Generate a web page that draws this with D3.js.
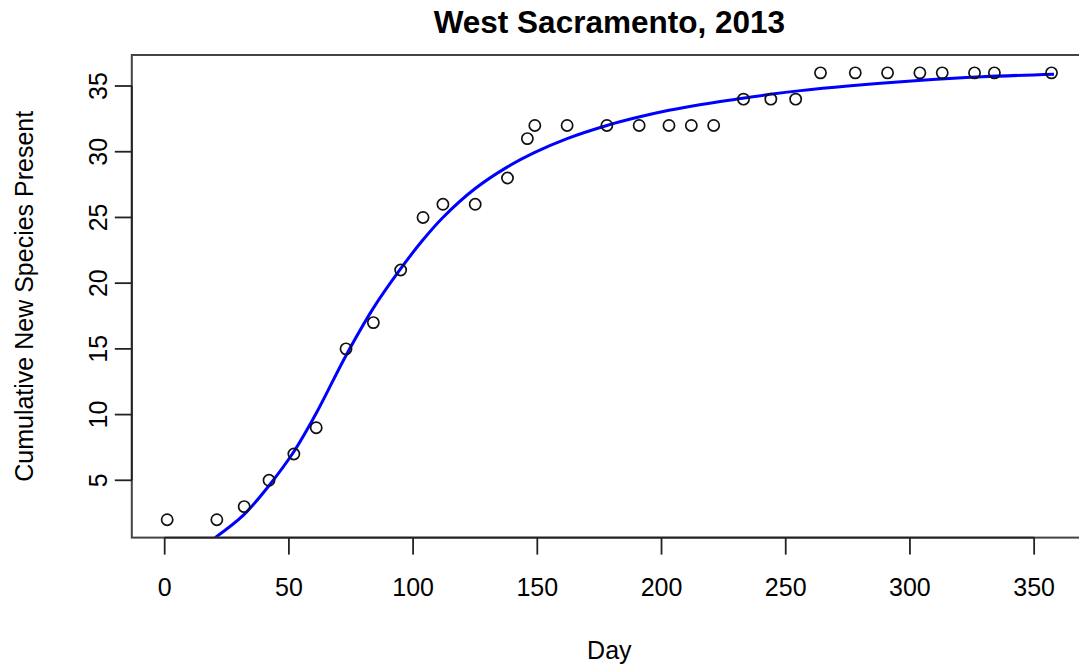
<!DOCTYPE html>
<html>
<head>
<meta charset="utf-8">
<script src="https://d3js.org/d3.v7.min.js"></script>
<style>
    body { margin: 0; background: white; }
    #chart-area { width: 1079px; height: 666px; overflow: hidden; }
    text { font-family: "Liberation Sans", Arial, Helvetica, sans-serif; fill: black; }
</style>
</head>
<body>
<div id="chart-area"></div>
<script>

// observed cumulative species counts
let days    = [1, 21, 32, 42, 52, 61, 73, 84, 95, 104, 112, 125, 138, 146, 149, 162, 178, 191, 203, 212, 221,
               233, 244, 254, 264, 278, 291, 304, 313, 326, 334, 357];
let species = [2, 2, 3, 5, 7, 9, 15, 17, 21, 25, 26, 26, 28, 31, 32, 32, 32, 32, 32, 32, 32,
               34, 34, 34, 36, 36, 36, 36, 36, 36, 36, 36];

// fitted curve
let fitDays   = [20.3, 31.7, 41.8, 51.9, 61, 73, 84, 95, 104, 112, 125, 138, 149, 162, 178, 190,
                 203, 216, 230, 243, 256, 275, 302, 329, 358];
let fitValues = [0.64, 2.35, 4.55, 7.15, 10.1, 14.5, 18.1, 21.1, 23.3, 25.0, 27.2, 28.85, 29.95, 31.0, 32.0, 32.6,
                 33.15, 33.6, 34.0, 34.35, 34.65, 35.0, 35.4, 35.7, 35.9];

let xTicks = [0, 50, 100, 150, 200, 250, 300, 350];
let yTicks = [5, 10, 15, 20, 25, 30, 35];

let chartTitle = "West Sacramento, 2013";
let xTitle = "Day";
let yTitle = "Cumulative New Species Present";


class CurveVis {
    constructor(parentElement) {
        this.parentElement = parentElement;
        this.initVis();
    }

    initVis() {
        let vis = this;

        vis.width = 1079;
        vis.height = 666;
        // plot region, R style (extends past the right edge of the picture)
        vis.plot = {left: 131.8, right: 1086.9, top: 55, bottom: 537.6};

        vis.svg = d3.select("#" + vis.parentElement).append("svg")
            .attr("width", vis.width)
            .attr("height", vis.height);

        // R pads the data range by 4% on each side
        let xPad = (d3.max(days) - d3.min(days)) * 0.04;
        let yPad = (d3.max(species) - d3.min(species)) * 0.04;

        vis.x = d3.scaleLinear()
            .domain([d3.min(days) - xPad, d3.max(days) + xPad])
            .range([vis.plot.left, vis.plot.right]);

        vis.y = d3.scaleLinear()
            .domain([d3.min(species) - yPad, d3.max(species) + yPad])
            .range([vis.plot.bottom, vis.plot.top]);

        vis.drawVis();
    }

    drawVis() {
        let vis = this;
        let p = vis.plot;

        vis.svg.append("defs").append("clipPath").attr("id", "plot-clip")
            .append("rect")
            .attr("x", p.left).attr("y", p.top)
            .attr("width", p.right - p.left).attr("height", p.bottom - p.top);

        // fitted curve
        let line = d3.line()
            .x((d, i) => vis.x(fitDays[i]))
            .y(d => vis.y(d))
            .curve(d3.curveCatmullRom.alpha(0.5));

        vis.svg.append("path")
            .datum(fitValues)
            .attr("clip-path", "url(#plot-clip)")
            .attr("d", line)
            .attr("fill", "none")
            .attr("stroke", "#0000ff")
            .attr("stroke-width", 3);

        // points
        vis.svg.selectAll(".pt")
            .data(days)
            .enter().append("circle")
            .attr("class", "pt")
            .attr("cx", d => vis.x(d))
            .attr("cy", (d, i) => vis.y(species[i]))
            .attr("r", 5.6)
            .attr("fill", "none")
            .attr("stroke", "#111")
            .attr("stroke-width", 1.7);

        // box
        vis.svg.append("rect")
            .attr("x", p.left).attr("y", p.top)
            .attr("width", p.right - p.left).attr("height", p.bottom - p.top)
            .attr("fill", "none")
            .attr("stroke", "#444")
            .attr("stroke-width", 2);

        // x axis
        let xAxis = vis.svg.append("g");
        xAxis.append("line")
            .attr("x1", vis.x(xTicks[0])).attr("x2", vis.x(xTicks[xTicks.length - 1]))
            .attr("y1", p.bottom).attr("y2", p.bottom)
            .attr("stroke", "#222").attr("stroke-width", 1.8);
        xAxis.selectAll(".xtick")
            .data(xTicks)
            .enter().append("line")
            .attr("x1", d => vis.x(d)).attr("x2", d => vis.x(d))
            .attr("y1", p.bottom).attr("y2", p.bottom + 17)
            .attr("stroke", "#222").attr("stroke-width", 1.8);
        xAxis.selectAll(".xlabel")
            .data(xTicks)
            .enter().append("text")
            .attr("x", d => vis.x(d))
            .attr("y", 596)
            .attr("text-anchor", "middle")
            .style("font-size", "25px")
            .text(d => d);

        // y axis
        let yAxis = vis.svg.append("g");
        yAxis.append("line")
            .attr("x1", p.left).attr("x2", p.left)
            .attr("y1", vis.y(yTicks[0])).attr("y2", vis.y(yTicks[yTicks.length - 1]))
            .attr("stroke", "#222").attr("stroke-width", 1.8);
        yAxis.selectAll(".ytick")
            .data(yTicks)
            .enter().append("line")
            .attr("x1", p.left - 17).attr("x2", p.left)
            .attr("y1", d => vis.y(d)).attr("y2", d => vis.y(d))
            .attr("stroke", "#222").attr("stroke-width", 1.8);
        yAxis.selectAll(".ylabel")
            .data(yTicks)
            .enter().append("text")
            .attr("transform", d => `translate(107, ${vis.y(d)}) rotate(-90)`)
            .attr("text-anchor", "middle")
            .style("font-size", "25px")
            .text(d => d);

        // titles
        let midX = (p.left + p.right) / 2;
        vis.svg.append("text")
            .attr("x", midX).attr("y", 33)
            .attr("text-anchor", "middle")
            .style("font-size", "31.5px").style("font-weight", "bold")
            .text(chartTitle);

        vis.svg.append("text")
            .attr("x", midX).attr("y", 659)
            .attr("text-anchor", "middle")
            .style("font-size", "25px")
            .text(xTitle);

        vis.svg.append("text")
            .attr("transform", `translate(33, ${(p.top + p.bottom) / 2}) rotate(-90)`)
            .attr("text-anchor", "middle")
            .style("font-size", "25px")
            .text(yTitle);
    }
}

new CurveVis("chart-area");

</script>
</body>
</html>
